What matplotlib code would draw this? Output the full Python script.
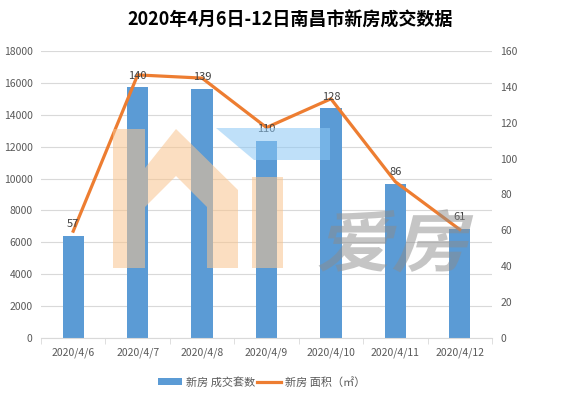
import matplotlib
matplotlib.use("Agg")
import matplotlib.pyplot as plt
from matplotlib.patches import Polygon, Patch, PathPatch
from matplotlib.lines import Line2D
from matplotlib.textpath import TextPath
from matplotlib.font_manager import FontProperties
from matplotlib.transforms import Affine2D

plt.rcParams['font.family'] = ['Noto Sans CJK SC', 'DejaVu Sans']

dates = ["2020/4/6", "2020/4/7", "2020/4/8", "2020/4/9", "2020/4/10", "2020/4/11", "2020/4/12"]
units = [57, 140, 139, 110, 128, 86, 61]
area = [6700, 16500, 16300, 13200, 15000, 9800, 6800]

W, H = 581, 399
fig = plt.figure(figsize=(W / 100, H / 100), dpi=100)
fig.patch.set_facecolor("white")

L, R, T, B = 41, 492, 51, 338
rect = [L / W, (H - B) / H, (R - L) / W, (B - T) / H]

# background axis: left scale (area) with grid
axl = fig.add_axes(rect)
axl.set_ylim(0, 18000)
axl.set_yticks(range(0, 18001, 2000))
axl.set_xlim(-0.5, len(dates) - 0.5)
axl.grid(axis="y", color="#D9D9D9", linewidth=0.8)
axl.tick_params(axis="y", length=0, labelsize=7.5, labelcolor="#595959", pad=6)
axl.set_xticks([])
for s in ["top", "left", "right", "bottom"]:
    axl.spines[s].set_visible(False)

# front axis: right scale (counts) with bars + line
ax = fig.add_axes(rect)
ax.patch.set_visible(False)
x = list(range(len(dates)))
ax.bar(x, units, width=0.33, color="#5B9BD5", zorder=2)
ax.set_ylim(0, 160)
ax.set_xlim(-0.5, len(dates) - 0.5)
ax.set_yticks(range(0, 161, 20))
ax.yaxis.tick_right()
for xi, v in zip(x, units):
    ax.text(xi, v + 3.5, str(v), ha="center", va="bottom", fontsize=8, color="#404040", zorder=6)
# area line, mapped onto the same vertical extent as the left scale
ax.plot(x, [a * 160 / 18000 for a in area], color="#ED7D31", linewidth=2.3, zorder=3)

ax.set_xticks(x)
ax.set_xticklabels(dates)
ax.set_xticks([i + 0.5 for i in range(-1, len(dates))], minor=True)
ax.tick_params(axis="x", which="major", length=0, labelsize=7.5, labelcolor="#595959", pad=7)
ax.tick_params(axis="x", which="minor", length=4, color="#D9D9D9")
ax.tick_params(axis="y", length=0, labelsize=7.5, labelcolor="#595959", pad=6)
for s in ["top", "left", "right"]:
    ax.spines[s].set_visible(False)
ax.spines["bottom"].set_color("#D9D9D9")

fig.text(0.5, 1 - 20 / H, "2020年4月6日-12日南昌市新房成交数据", ha="center", va="center",
         fontsize=13, fontweight="bold", color="#000000")

# watermark (semi-transparent)
def px(pts):
    return [(a / W, 1 - b / H) for a, b in pts]

orange = "#F9C48E"
house = [(113, 268), (113, 129), (145, 129), (145, 168), (176, 129), (238, 190), (238, 268),
         (207, 268), (207, 207), (176, 176), (145, 207), (145, 268)]
fig.patches.append(Polygon(px(house), closed=True, transform=fig.transFigure,
                           facecolor=orange, alpha=0.55, edgecolor="none", zorder=5))
fig.patches.append(Polygon(px([(252, 177), (283, 177), (283, 268), (252, 268)]), closed=True,
                           transform=fig.transFigure, facecolor=orange, alpha=0.55,
                           edgecolor="none", zorder=5))
fig.patches.append(Polygon(px([(216, 128), (330, 128), (330, 160), (254, 160)]), closed=True,
                           transform=fig.transFigure, facecolor="#8CC8F5", alpha=0.55,
                           edgecolor="none", zorder=5))
tp = TextPath((0, 0), "爱房", size=72, prop=FontProperties(family="Noto Sans CJK SC", weight="bold"))
tr = Affine2D().scale(1.05, 0.93).skew_deg(14, 0).translate(316, H - 266)
fig.patches.append(PathPatch(tp, transform=tr, facecolor="#8C8C8C", alpha=0.5,
                             edgecolor="none", zorder=5))

# legend
handles = [Patch(facecolor="#5B9BD5", edgecolor="none"),
           Line2D([0], [0], color="#ED7D31", linewidth=2.3)]
fig.legend(handles, ["新房 成交套数", "新房 面积（㎡）"], loc="center",
           bbox_to_anchor=(0.45, 1 - 382 / H), ncol=2, frameon=False, fontsize=8,
           labelcolor="#595959", handlelength=2.2, handletextpad=0.3, columnspacing=0.2)

fig.savefig("out.png", dpi=100)
